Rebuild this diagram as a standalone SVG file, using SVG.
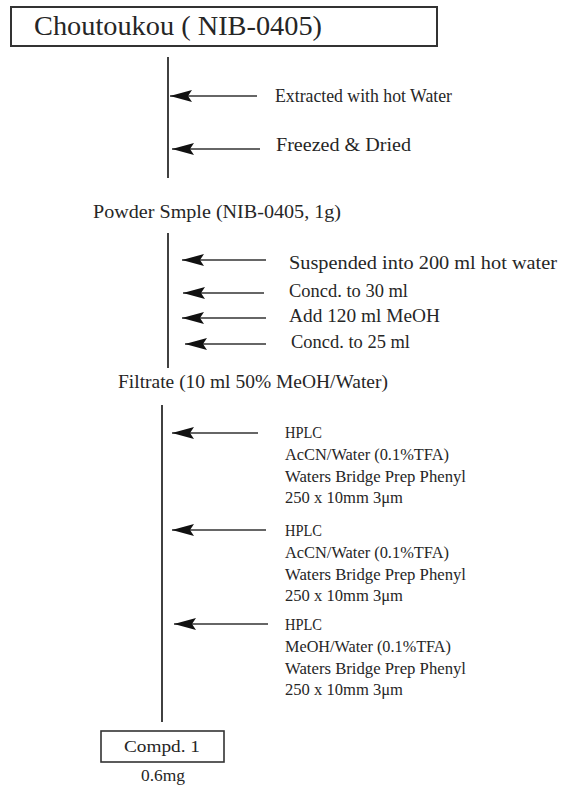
<svg xmlns="http://www.w3.org/2000/svg" width="565" height="790" viewBox="0 0 565 790">
<defs>
<marker id="ah" viewBox="0 0 22 12" refX="22" refY="6" markerWidth="22" markerHeight="12" markerUnits="userSpaceOnUse" orient="auto">
<path d="M0,0 L22,6 L0,12 L4,6 Z" fill="#111"/>
</marker>
</defs>
<style>
text{font-family:"Liberation Serif","Times New Roman",serif;fill:#262626;font-size:18.5px}
.big{font-size:27px}
.sm{font-size:16.5px}
.box{fill:#fff;stroke:#333;stroke-width:2}
.v{stroke:#111;stroke-width:1.6}
.a{stroke:#333;stroke-width:1.6;marker-end:url(#ah)}
</style>
<rect width="565" height="790" fill="#fff"/>
<g id="start">
<rect class="box" x="11" y="7" width="426" height="39"/>
<text class="big" x="34" y="35" textLength="288" lengthAdjust="spacingAndGlyphs">Choutoukou ( NIB-0405)</text>
</g>
<g id="connectors">
<line class="v" x1="168" y1="57" x2="168" y2="178"/>
<line class="a" x1="257" y1="96" x2="170" y2="96"/>
<line class="a" x1="260" y1="149" x2="172" y2="149"/>
<line class="v" x1="168" y1="233" x2="168" y2="368"/>
<line class="a" x1="266" y1="260" x2="182" y2="260"/>
<line class="a" x1="264" y1="293" x2="183" y2="293"/>
<line class="a" x1="266" y1="318" x2="182" y2="318"/>
<line class="a" x1="266" y1="344" x2="185" y2="344"/>
<line class="v" x1="162" y1="405" x2="162" y2="722"/>
<line class="a" x1="258" y1="433" x2="172" y2="433"/>
<line class="a" x1="266" y1="530" x2="172" y2="530"/>
<line class="a" x1="268" y1="624" x2="174" y2="624"/>
</g>
<g id="step1">
<text x="275" y="102" textLength="177" lengthAdjust="spacingAndGlyphs">Extracted with hot Water</text>
<text x="276" y="151" textLength="135" lengthAdjust="spacingAndGlyphs">Freezed &amp; Dried</text>
</g>
<g id="powder">
<text x="93" y="218" textLength="248" lengthAdjust="spacingAndGlyphs">Powder Smple (NIB-0405, 1g)</text>
</g>
<g id="step2">
<text x="289" y="269" textLength="268" lengthAdjust="spacingAndGlyphs">Suspended into 200 ml hot water</text>
<text x="289" y="297" textLength="119" lengthAdjust="spacingAndGlyphs">Concd. to 30 ml</text>
<text x="289" y="322" textLength="151" lengthAdjust="spacingAndGlyphs">Add 120 ml MeOH</text>
<text x="291" y="348" textLength="119" lengthAdjust="spacingAndGlyphs">Concd. to 25 ml</text>
</g>
<g id="filtrate">
<text x="118" y="388" textLength="270" lengthAdjust="spacingAndGlyphs">Filtrate (10 ml 50% MeOH/Water)</text>
</g>
<g id="hplc1">
<text class="sm" x="285" y="438" textLength="37" lengthAdjust="spacingAndGlyphs">HPLC</text>
<text class="sm" x="285" y="460" textLength="164" lengthAdjust="spacingAndGlyphs">AcCN/Water (0.1%TFA)</text>
<text class="sm" x="285" y="482" textLength="181" lengthAdjust="spacingAndGlyphs">Waters Bridge Prep Phenyl</text>
<text class="sm" x="285" y="503" textLength="118" lengthAdjust="spacingAndGlyphs">250 x 10mm 3μm</text>
</g>
<g id="hplc2">
<text class="sm" x="285" y="536" textLength="37" lengthAdjust="spacingAndGlyphs">HPLC</text>
<text class="sm" x="285" y="558" textLength="164" lengthAdjust="spacingAndGlyphs">AcCN/Water (0.1%TFA)</text>
<text class="sm" x="285" y="580" textLength="181" lengthAdjust="spacingAndGlyphs">Waters Bridge Prep Phenyl</text>
<text class="sm" x="285" y="601" textLength="118" lengthAdjust="spacingAndGlyphs">250 x 10mm 3μm</text>
</g>
<g id="hplc3">
<text class="sm" x="285" y="630" textLength="37" lengthAdjust="spacingAndGlyphs">HPLC</text>
<text class="sm" x="285" y="652" textLength="166" lengthAdjust="spacingAndGlyphs">MeOH/Water (0.1%TFA)</text>
<text class="sm" x="285" y="674" textLength="181" lengthAdjust="spacingAndGlyphs">Waters Bridge Prep Phenyl</text>
<text class="sm" x="285" y="695" textLength="118" lengthAdjust="spacingAndGlyphs">250 x 10mm 3μm</text>
</g>
<g id="compd1">
<rect class="box" x="101" y="731" width="123" height="31" style="stroke-width:1.6"/>
<text class="sm" x="124" y="752" textLength="76" lengthAdjust="spacingAndGlyphs">Compd. 1</text>
<text class="sm" x="141" y="781" textLength="44" lengthAdjust="spacingAndGlyphs">0.6mg</text>
</g>
</svg>
